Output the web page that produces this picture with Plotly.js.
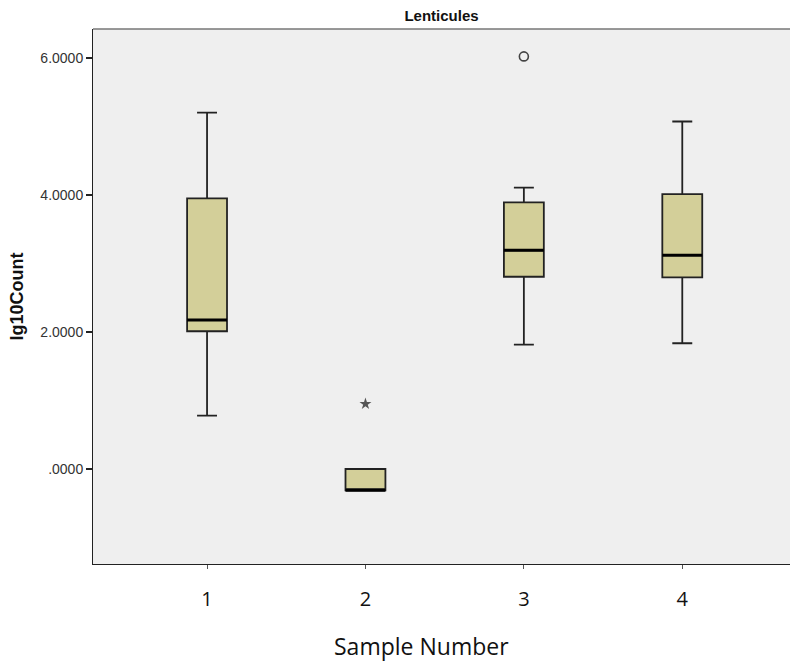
<!DOCTYPE html>
<html>
<head>
<meta charset="utf-8">
<script src="https://cdn.plot.ly/plotly-3.0.1.min.js"></script>
<style>html,body{margin:0;padding:0;background:#fff;}#chart{width:790px;height:664px;}</style>
</head>
<body>
<div id="chart"></div>
<script>
// Data
const samples = [1, 2, 3, 4];
const sampleLabels = ['1', '2', '3', '4'];
const lowerWhisker = [0.78, -0.31, 1.815, 1.835];
const q1Values = [2.01, -0.31, 2.805, 2.796];
const medianValues = [2.174, -0.31, 3.19, 3.12];
const q3Values = [3.95, 0.0, 3.89, 4.01];
const upperWhisker = [5.20, 0.0, 4.107, 5.07];
// outliers
const outlierX = [3];
const outlierY = [6.02];
const extremeX = [2];
const extremeY = [0.95];
const yTickVals = [0, 2, 4, 6];
const yTickText = ['.0000', '2.0000', '4.0000', '6.0000'];

const boxWidth = 0.252;

const traces = [
  {
    type: 'box',
    x: samples,
    q1: q1Values,
    median: medianValues,
    q3: q3Values,
    lowerfence: lowerWhisker,
    upperfence: upperWhisker,
    boxpoints: false,
    width: boxWidth,
    whiskerwidth: 0.5,
    fillcolor: '#d3cf99',
    line: {color: '#222', width: 1.8},
    hoverinfo: 'skip',
    showlegend: false
  },
  {
    // thick median bars drawn as zero-height boxes at the median
    type: 'box',
    x: samples,
    q1: medianValues,
    median: medianValues,
    q3: medianValues,
    lowerfence: medianValues,
    upperfence: medianValues,
    boxpoints: false,
    width: boxWidth,
    whiskerwidth: 0,
    fillcolor: 'rgba(0,0,0,0)',
    line: {color: '#000', width: 3},
    hoverinfo: 'skip',
    showlegend: false
  },
  {
    type: 'scatter',
    mode: 'markers',
    x: outlierX,
    y: outlierY,
    marker: {symbol: 'circle-open', size: 9, color: '#444', line: {width: 1.6, color: '#444'}},
    showlegend: false,
    hoverinfo: 'skip'
  },
  {
    type: 'scatter',
    mode: 'markers',
    x: extremeX,
    y: extremeY,
    marker: {symbol: 'star', size: 9, color: '#555', line: {width: 0}},
    showlegend: false,
    hoverinfo: 'skip'
  }
];

const layout = {
  width: 790,
  height: 664,
  margin: {l: 93, r: 0, t: 28.5, b: 99.5, pad: 0},
  paper_bgcolor: '#ffffff',
  plot_bgcolor: '#efefef',
  boxmode: 'overlay',
  title: {
    text: '<b>Lenticules</b>',
    font: {family: 'Liberation Sans, Arial, sans-serif', size: 15, color: '#111'},
    x: 0.5, xanchor: 'center', xref: 'paper',
    y: 0.976, yanchor: 'middle'
  },
  xaxis: {
    range: [0.28, 4.68],
    tickmode: 'array',
    tickvals: samples,
    ticktext: sampleLabels,
    ticks: 'outside',
    ticklen: 4,
    tickcolor: '#555',
    tickwidth: 1,
    ticklabelstandoff: 13,
    showline: true,
    linecolor: '#222',
    linewidth: 1,
    showgrid: false,
    zeroline: false,
    tickfont: {family: 'Open Sans, sans-serif', size: 20, color: '#111'}
  },
  yaxis: {
    range: [-1.386, 6.42],
    tickmode: 'array',
    tickvals: yTickVals,
    ticktext: yTickText,
    ticks: 'outside',
    ticklen: 6,
    tickcolor: '#222',
    tickwidth: 1.5,
    showline: true,
    linecolor: '#222',
    linewidth: 1,
    showgrid: false,
    zeroline: false,
    tickfont: {family: 'Liberation Sans, Arial, sans-serif', size: 14, color: '#333'},
    title: {
      text: '<b>lg10Count</b>',
      font: {family: 'Liberation Sans, Arial, sans-serif', size: 18, color: '#111'},
      standoff: 12
    }
  },
  annotations: [
    {
      text: 'Sample Number',
      xref: 'paper', yref: 'paper',
      x: 0.472, y: -0.1535,
      xanchor: 'center', yanchor: 'middle',
      showarrow: false,
      font: {family: 'Open Sans, sans-serif', size: 23, color: '#111'}
    }
  ],
  shapes: [
    {type: 'line', xref: 'paper', yref: 'paper', x0: 0, x1: 1, y0: 1, y1: 1,
     line: {color: '#777', width: 1.5}}
  ]
};

Plotly.newPlot('chart', traces, layout, {staticPlot: true, displayModeBar: false});
</script>
</body>
</html>
